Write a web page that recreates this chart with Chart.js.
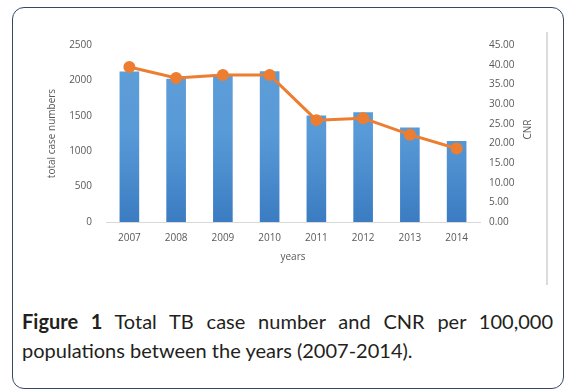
<!DOCTYPE html>
<html>
<head>
<meta charset="utf-8">
<script src="https://cdn.jsdelivr.net/npm/chart.js@4"></script>
<style>
  html, body { margin: 0; padding: 0; background: #fff; }
  body { width: 570px; height: 391px; position: relative; overflow: hidden; font-family: "Open Sans", sans-serif; }
  #frame {
    position: absolute; left: 12px; top: 7px; width: 550px; height: 380px;
    border: 1.5px solid #34496a; border-radius: 12px;
  }
  #edge { position: absolute; left: 546px; top: 32px; width: 2px; height: 253px; background: #dcdcdc; }
  #wrap { position: absolute; left: 0; top: 0; width: 570px; height: 290px; }
  #caption {
    position: absolute; left: 22px; top: 307px; width: 531px;
    font-family: Lato, sans-serif; font-size: 20px; line-height: 29px; color: #231f20;
  }
  #caption .l1 { text-align: justify; text-align-last: justify; }
  #caption b { font-weight: 700; }
</style>
</head>
<body>
<div id="frame"></div>
<div id="edge"></div>
<div id="wrap"><canvas id="chart" width="570" height="290"></canvas></div>
<div id="caption">
  <div class="l1"><b>Figure 1</b> Total TB case number and CNR per 100,000</div>
  <div>populations between the years (2007-2014).</div>
</div>
<script>
const years = ['2007', '2008', '2009', '2010', '2011', '2012', '2013', '2014'];
const caseNumbers = [2125, 2025, 2085, 2130, 1505, 1550, 1335, 1145];
const cnrValues = [39.4, 36.6, 37.4, 37.4, 25.9, 26.4, 22.2, 18.7];

const tickColor = '#595959';
const tickFont = { family: 'Open Sans', size: 10 };

function barGradient(ctx) {
  const area = ctx.chart.chartArea;
  if (!area) return '#5b9bd5';
  const g = ctx.chart.ctx.createLinearGradient(0, area.top, 0, area.bottom);
  g.addColorStop(0, '#5f9fd9');
  g.addColorStop(0.5, '#589ad7');
  g.addColorStop(1, '#3b7cc2');
  return g;
}

// secondary axis title reads bottom-to-top like the primary one
const cnrTitle = {
  id: 'cnrTitle',
  afterDraw(chart) {
    const s = chart.scales.y1;
    const c = chart.ctx;
    c.save();
    c.translate(s.right - 4, (s.top + s.bottom) / 2 - 4);
    c.rotate(-Math.PI / 2);
    c.fillStyle = tickColor;
    c.font = '10px "Open Sans"';
    c.textAlign = 'center';
    c.textBaseline = 'middle';
    c.fillText('CNR', 0, 0);
    c.restore();
  }
};

new Chart(document.getElementById('chart'), {
  type: 'bar',
  data: {
    labels: years,
    datasets: [
      {
        type: 'line',
        label: 'CNR',
        data: cnrValues,
        yAxisID: 'y1',
        borderColor: '#ed7d31',
        backgroundColor: '#ed7d31',
        borderWidth: 3,
        pointRadius: 4.5,
        pointBackgroundColor: '#ed7d31',
        pointBorderColor: '#ed7d31',
        tension: 0,
        order: 0
      },
      {
        label: 'total case numbers',
        data: caseNumbers,
        yAxisID: 'y',
        backgroundColor: barGradient,
        barPercentage: 0.42,
        categoryPercentage: 1,
        order: 1
      }
    ]
  },
  options: {
    responsive: false,
    animation: false,
    devicePixelRatio: 1,
    layout: { padding: { left: 42, right: 38, top: 45, bottom: 23 } },
    plugins: { legend: { display: false }, tooltip: { enabled: false } },
    scales: {
      x: {
        grid: { display: false },
        border: { color: '#d9d9d9', width: 1 },
        ticks: { color: tickColor, font: tickFont, padding: 2, maxRotation: 0 },
        title: { display: true, text: 'years', color: tickColor, font: tickFont, padding: { top: 3 } },
        afterFit: s => { s.height = 45; }
      },
      y: {
        position: 'left',
        min: 0, max: 2500,
        grid: { display: false, drawTicks: false },
        border: { display: false },
        ticks: { stepSize: 500, color: tickColor, font: tickFont, padding: 14, callback: v => String(v) },
        title: { display: true, text: 'total case numbers', color: tickColor, font: tickFont },
        afterFit: s => { s.width = 64; }
      },
      y1: {
        position: 'right',
        min: 0, max: 45,
        grid: { display: false, drawTicks: false },
        border: { display: false },
        ticks: { stepSize: 5, color: tickColor, font: tickFont, padding: 9, callback: v => v.toFixed(2) },
        afterFit: s => { s.width = 52; }
      }
    }
  },
  plugins: [cnrTitle]
});
</script>
</body>
</html>
